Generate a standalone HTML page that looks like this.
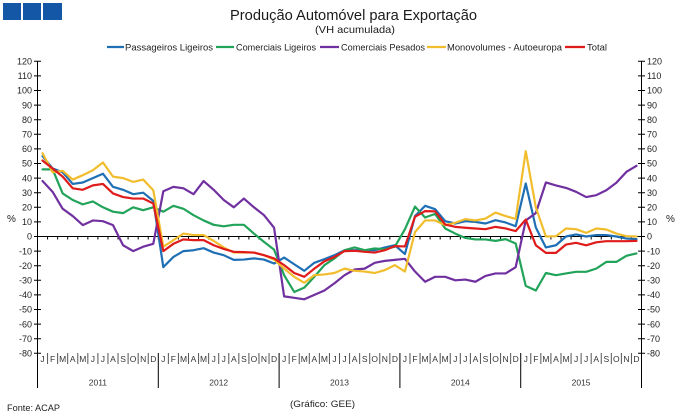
<!DOCTYPE html>
<html><head><meta charset="utf-8"><style>
html,body{margin:0;padding:0;background:#fff;}
svg{display:block;font-family:"Liberation Sans",Arial,sans-serif;}
</style></head><body>
<svg width="680" height="417" viewBox="0 0 680 417" xmlns="http://www.w3.org/2000/svg">
<rect x="0" y="0" width="680" height="417" fill="#fff"/>
<rect x="3" y="3" width="18" height="17" fill="#1457a6"/>
<rect x="23" y="3" width="18" height="17" fill="#1457a6"/>
<rect x="43" y="3" width="19" height="17" fill="#1457a6"/>
<text x="230" y="20" font-size="14.5" fill="#1a1a1a" textLength="247" lengthAdjust="spacingAndGlyphs">Produção Automóvel para Exportação</text>
<text x="315" y="33" font-size="10.5" fill="#1a1a1a" textLength="80" lengthAdjust="spacingAndGlyphs">(VH acumulada)</text>
<g stroke-width="2.2">
<line x1="107" y1="47" x2="124" y2="47" stroke="#1f6fb5"/>
<line x1="216" y1="47" x2="234" y2="47" stroke="#22a35a"/>
<line x1="320" y1="47" x2="339" y2="47" stroke="#7030a0"/>
<line x1="427" y1="47" x2="446" y2="47" stroke="#f2bd2c"/>
<line x1="565" y1="47" x2="585" y2="47" stroke="#e01b1b"/>
</g>
<g font-size="9" fill="#222">
<text x="125" y="50.5" textLength="88" lengthAdjust="spacingAndGlyphs">Passageiros Ligeiros</text>
<text x="236" y="50.5" textLength="80" lengthAdjust="spacingAndGlyphs">Comerciais Ligeiros</text>
<text x="341" y="50.5" textLength="84" lengthAdjust="spacingAndGlyphs">Comerciais Pesados</text>
<text x="447" y="50.5" textLength="115" lengthAdjust="spacingAndGlyphs">Monovolumes - Autoeuropa</text>
<text x="587" y="50.5" textLength="20" lengthAdjust="spacingAndGlyphs">Total</text>
</g>
<!-- axes -->
<g stroke="#000" stroke-width="1" fill="none">
<path d="M37.5 61.3V388M641.5 61.3V388M37.5 236.5H641.5"/>
<path d="M34 61.3H41M34 75.9H41M34 90.5H41M34 105.1H41M34 119.7H41M34 134.3H41M34 148.9H41M34 163.5H41M34 178.1H41M34 192.7H41M34 207.3H41M34 221.9H41M34 236.5H41M34 251.1H41M34 265.7H41M34 280.3H41M34 294.9H41M34 309.5H41M34 324.1H41M34 338.7H41M34 353.3H41"/>
<path d="M638 61.3H645M638 75.9H645M638 90.5H645M638 105.1H645M638 119.7H645M638 134.3H645M638 148.9H645M638 163.5H645M638 178.1H645M638 192.7H645M638 207.3H645M638 221.9H645M638 236.5H645M638 251.1H645M638 265.7H645M638 280.3H645M638 294.9H645M638 309.5H645M638 324.1H645M638 338.7H645M638 353.3H645"/>
</g>
<g transform="translate(37.5,0) scale(10.067,1)" fill="none">
<path stroke="#000" vector-effect="non-scaling-stroke" d="M1 236.5V239.5M2 236.5V239.5M3 236.5V239.5M4 236.5V239.5M5 236.5V239.5M6 236.5V239.5M7 236.5V239.5M8 236.5V239.5M9 236.5V239.5M10 236.5V239.5M11 236.5V239.5M12 236.5V239.5M13 236.5V239.5M14 236.5V239.5M15 236.5V239.5M16 236.5V239.5M17 236.5V239.5M18 236.5V239.5M19 236.5V239.5M20 236.5V239.5M21 236.5V239.5M22 236.5V239.5M23 236.5V239.5M24 236.5V239.5M25 236.5V239.5M26 236.5V239.5M27 236.5V239.5M28 236.5V239.5M29 236.5V239.5M30 236.5V239.5M31 236.5V239.5M32 236.5V239.5M33 236.5V239.5M34 236.5V239.5M35 236.5V239.5M36 236.5V239.5M37 236.5V239.5M38 236.5V239.5M39 236.5V239.5M40 236.5V239.5M41 236.5V239.5M42 236.5V239.5M43 236.5V239.5M44 236.5V239.5M45 236.5V239.5M46 236.5V239.5M47 236.5V239.5M48 236.5V239.5M49 236.5V239.5M50 236.5V239.5M51 236.5V239.5M52 236.5V239.5M53 236.5V239.5M54 236.5V239.5M55 236.5V239.5M56 236.5V239.5M57 236.5V239.5M58 236.5V239.5M59 236.5V239.5"/>
<path stroke="#555" vector-effect="non-scaling-stroke" d="M1 353V364M2 353V364M3 353V364M4 353V364M5 353V364M6 353V364M7 353V364M8 353V364M9 353V364M10 353V364M11 353V364M13 353V364M14 353V364M15 353V364M16 353V364M17 353V364M18 353V364M19 353V364M20 353V364M21 353V364M22 353V364M23 353V364M25 353V364M26 353V364M27 353V364M28 353V364M29 353V364M30 353V364M31 353V364M32 353V364M33 353V364M34 353V364M35 353V364M37 353V364M38 353V364M39 353V364M40 353V364M41 353V364M42 353V364M43 353V364M44 353V364M45 353V364M46 353V364M47 353V364M49 353V364M50 353V364M51 353V364M52 353V364M53 353V364M54 353V364M55 353V364M56 353V364M57 353V364M58 353V364M59 353V364"/>
<path stroke="#000" vector-effect="non-scaling-stroke" d="M12 353V388M24 353V388M36 353V388M48 353V388"/>
</g>
<!-- y labels -->
<g font-size="9" fill="#222" text-anchor="end">
<text x="32" y="64.5">120</text><text x="32" y="79.1">110</text><text x="32" y="93.7">100</text><text x="32" y="108.3">90</text><text x="32" y="122.9">80</text><text x="32" y="137.5">70</text><text x="32" y="152.1">60</text><text x="32" y="166.7">50</text><text x="32" y="181.3">40</text><text x="32" y="195.9">30</text><text x="32" y="210.5">20</text><text x="32" y="225.1">10</text><text x="32" y="239.7">0</text><text x="32" y="254.3">-10</text><text x="32" y="268.9">-20</text><text x="32" y="283.5">-30</text><text x="32" y="298.1">-40</text><text x="32" y="312.7">-50</text><text x="32" y="327.3">-60</text><text x="32" y="341.9">-70</text><text x="32" y="356.5">-80</text>
</g>
<g font-size="9" fill="#222" text-anchor="start">
<text x="647" y="64.5">120</text><text x="647" y="79.1">110</text><text x="647" y="93.7">100</text><text x="647" y="108.3">90</text><text x="647" y="122.9">80</text><text x="647" y="137.5">70</text><text x="647" y="152.1">60</text><text x="647" y="166.7">50</text><text x="647" y="181.3">40</text><text x="647" y="195.9">30</text><text x="647" y="210.5">20</text><text x="647" y="225.1">10</text><text x="647" y="239.7">0</text><text x="647" y="254.3">-10</text><text x="647" y="268.9">-20</text><text x="647" y="283.5">-30</text><text x="647" y="298.1">-40</text><text x="647" y="312.7">-50</text><text x="647" y="327.3">-60</text><text x="647" y="341.9">-70</text><text x="647" y="356.5">-80</text>
</g>
<text x="7" y="222" font-size="10" fill="#222">%</text>
<text x="666" y="222" font-size="10" fill="#222">%</text>
<!-- month labels -->
<text font-size="8.5" fill="#333" text-anchor="middle" y="362" x="42.5 52.6 62.7 72.7 82.8 92.9 102.9 113.0 123.1 133.1 143.2 153.3 163.3 173.4 183.5 193.5 203.6 213.7 223.7 233.8 243.9 253.9 264.0 274.1 284.1 294.2 304.3 314.3 324.4 334.5 344.5 354.6 364.7 374.7 384.8 394.9 404.9 415.0 425.1 435.1 445.2 455.3 465.3 475.4 485.5 495.5 505.6 515.7 525.7 535.8 545.9 555.9 566.0 576.1 586.1 596.2 606.3 616.3 626.4 636.5">JFMAMJJASONDJFMAMJJASONDJFMAMJJASONDJFMAMJJASONDJFMAMJJASOND</text>
<g font-size="8.5" fill="#333" text-anchor="middle">
<text x="97.9" y="385.5">2011</text><text x="218.7" y="385.5">2012</text><text x="339.5" y="385.5">2013</text><text x="460.3" y="385.5">2014</text><text x="581.1" y="385.5">2015</text>
</g>
<text x="7" y="411" font-size="9" fill="#222" textLength="53" lengthAdjust="spacingAndGlyphs">Fonte: ACAP</text>
<text x="290" y="407" font-size="9.5" fill="#222" textLength="65" lengthAdjust="spacingAndGlyphs">(Gráfico: GEE)</text>
<!-- series -->
<g transform="translate(42.53,236.5) scale(10.067,-1.46)" fill="none" stroke-width="2.2" stroke-linejoin="round" stroke-linecap="round">
<polyline vector-effect="non-scaling-stroke" stroke="#1f6fb5" points="0,55 1,46.6 2,44 3,36 4,37 5,40 6,43 7,34 8,32 9,29 10,30 11,24.4 12,-21 13,-14 14,-10 15,-9.4 16,-8 17,-11 18,-12.8 19,-16 20,-15.8 21,-15 22,-15.8 23,-18.5 24,-14.4 25,-19 26,-23.5 27,-18 28,-15.5 29,-12.8 30,-9.4 31,-9.4 32,-9.4 33,-9.4 34,-7.5 35,-6 36,-12 37,14 38,21 39,18.7 40,10.5 41,8.9 42,10.5 43,10 44,8.9 45,11.2 46,9.6 47,7 48,36.3 49,6.2 50,-7.5 51,-6 52,0 53,1.4 54,0 55,1 56,1 57,0 58,-1.4 59,-1.8"/>
<polyline vector-effect="non-scaling-stroke" stroke="#22a35a" points="0,46 1,46 2,29.5 3,25 4,22 5,24 6,20 7,17 8,16 9,20 10,18 11,20 12,17 13,21 14,19 15,14.6 16,11 17,8 18,7 19,8 20,8 21,2 22,-3.7 23,-9 24,-26.5 25,-38 26,-35 27,-27.6 28,-19.6 29,-15 30,-9.4 31,-7.5 32,-9.4 33,-8.2 34,-8.7 35,-7 36,5 37,20.5 38,13 39,15.5 40,5.5 41,2 42,-1 43,-2 44,-2 45,-3 46,-1.8 47,-4.8 48,-33.8 49,-37 50,-25 51,-26.5 52,-25.3 53,-24.2 54,-24.2 55,-22 56,-17.4 57,-17.4 58,-13.2 59,-11.6"/>
<polyline vector-effect="non-scaling-stroke" stroke="#7030a0" points="0,38 1,30.6 2,19 3,14 4,7.8 5,11 6,10.5 7,7.8 8,-6 9,-10 10,-7 11,-5 12,31 13,34 14,33 15,29 16,38 17,32 18,25 19,20 20,26 21,20 22,14.6 23,6 24,-41 25,-42 26,-43 27,-40 28,-37 29,-32 30,-26.5 31,-22.6 32,-22 33,-18 34,-16.7 35,-16 36,-15.3 37,-24 38,-31 39,-27.6 40,-27.6 41,-30 42,-29.5 43,-31 44,-27 45,-25.3 46,-25.3 47,-21 48,11 49,16 50,37 51,35 52,33.3 53,30.6 54,27 55,28.3 56,31.7 57,36.8 58,44.3 59,48.4"/>
<polyline vector-effect="non-scaling-stroke" stroke="#f2bd2c" points="0,57 1,44 2,45 3,39 4,42 5,45.4 6,50.7 7,41 8,40 9,37.4 10,39 11,31.7 12,-7 13,-2.5 14,2 15,1 16,1 17,-3 18,-7.5 19,-11 20,-11 21,-11 22,-12.8 23,-15.8 24,-22 25,-27.6 26,-31.7 27,-26.5 28,-26 29,-25 30,-22 31,-23.5 32,-24 33,-25 34,-23 35,-19.6 36,-24 37,3 38,11 39,11 40,7.8 41,9.4 42,11.9 43,11 44,12.3 45,16.4 46,14 47,12 48,58.4 49,20 50,0 51,0.2 52,5.5 53,5 54,2.5 55,5.5 56,4.8 57,2 58,0.2 59,0"/>
<polyline vector-effect="non-scaling-stroke" stroke="#e01b1b" points="0,52 1,46.6 2,41 3,33 4,32 5,35 6,36 7,29.5 8,27 9,26 10,26 11,22.6 12,-10 13,-5 14,-2 15,-2.5 16,-2.5 17,-6 18,-8.5 19,-10.5 20,-10.7 21,-11 22,-12.8 23,-15 24,-19.6 25,-25 26,-27.6 27,-22 28,-17 29,-14 30,-10 31,-9.8 32,-10.5 33,-11 34,-9.4 35,-6.6 36,-6.8 37,13.5 38,17.4 39,17.2 40,8.2 41,6.6 42,6 43,5.5 44,5 45,6.6 46,5.5 47,3.7 48,11.6 49,-6 50,-11.2 51,-11.2 52,-5.5 53,-4.3 54,-6 55,-4 56,-3.2 57,-3.2 58,-3.2 59,-3"/>
</g>
</svg>
</body></html>
